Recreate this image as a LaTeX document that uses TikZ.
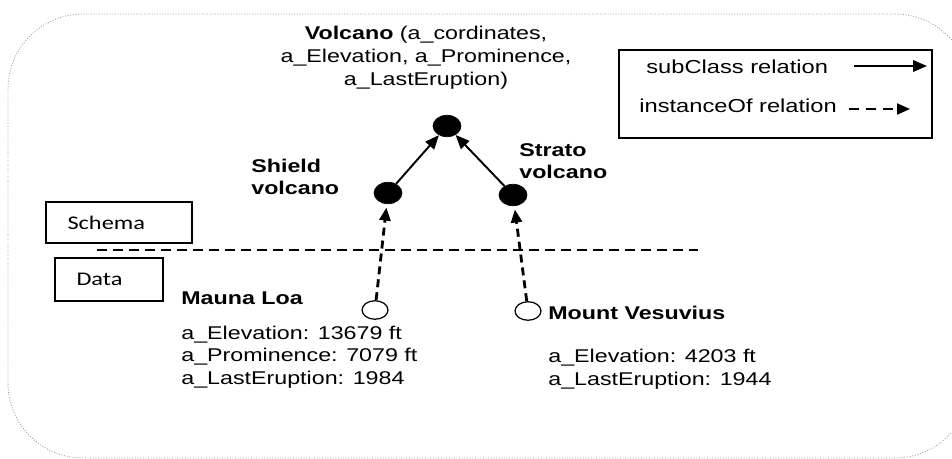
\documentclass[tikz,border=0pt]{standalone}
\usepackage{fontspec}
\setmainfont{Liberation Sans}[FakeStretch=1.26]
\newfontfamily\boxfont{Carlito}[FakeStretch=1.26]
\usepackage{tikz}
\usetikzlibrary{positioning,arrows.meta,shapes.geometric}
\tikzset{
  relarrow/.style={-{Triangle[length=0.28cm, width=0.23cm]}, line width=1.1pt},
  instarrow/.style={-{Triangle[length=0.26cm, width=0.22cm]}, line width=1.6pt, dash pattern=on 0.16cm off 0.1cm},
  classnode/.style={draw, ellipse, fill=black, minimum width=0.56cm, minimum height=0.43cm, inner sep=0pt},
  instnode/.style={draw, ellipse, fill=white, line width=0.7pt, minimum width=0.52cm, minimum height=0.37cm, inner sep=0pt},
  tagbox/.style={draw, line width=0.7pt, font=\boxfont\fontsize{11}{13}\selectfont, align=left, inner xsep=0.43cm, inner ysep=0pt},
  attrtext/.style={align=left, anchor=west, inner sep=0pt, font=\fontsize{10.5}{12.8}\selectfont},
  headtext/.style={align=left, anchor=west, inner sep=0pt, font=\bfseries\fontsize{10.5}{12.8}\selectfont},
  legendbox/.style={draw, line width=0.7pt},
  frame/.style={densely dotted, gray!80, line width=0.5pt, rounded corners=1.5cm}
}

\begin{document}
\begin{tikzpicture}[x=0.02cm, y=-0.02cm]
  \useasboundingbox (0,0) rectangle (952,459);
  % outer frame
  \begin{scope}
    \clip (0,0) rectangle (952,459);
    \draw[frame] (8,14) rectangle (970,458);
  \end{scope}

  % legend
  \node[legendbox, minimum width=6.26cm, minimum height=1.76cm] (legend) at (775.5,94) {};
  \node[attrtext, font=\fontsize{10.7}{13}\selectfont] (subtxt) at (646,67) {subClass relation};
  \node[attrtext, font=\fontsize{10.7}{13}\selectfont] (insttxt) at (639,106) {instanceOf relation};
  \coordinate (subA) at (854,66);
  \coordinate (subB) at (927,66);
  \coordinate (instA) at (849,109);
  \coordinate (instB) at (910,109);
  \draw[relarrow] (subA) -- (subB);
  \draw[instarrow, line width=1.2pt, dash pattern=on 0.2cm off 0.14cm] (instA) -- (instB);

  % schema part
  \node[classnode] (volcano) at (447,126) {};
  \node[classnode] (shield) at (388,193) {};
  \node[classnode] (strato) at (513,195) {};
  \node[align=center, inner sep=0pt, font=\fontsize{10.5}{13}\selectfont] (volctxt) at (426,58)
    {\textbf{Volcano} (a\_cordinates,\\a\_Elevation, a\_Prominence,\\a\_LastEruption)};
  \node[headtext] (shieldtxt) at (251,177) {Shield\\volcano};
  \node[headtext] (stratotxt) at (519,161) {Strato\\volcano};
  \draw[relarrow] (shield) -- (volcano);
  \draw[relarrow] (strato) -- (volcano);

  % schema / data split
  \node[tagbox, text width=2.06cm, minimum height=0.82cm] (schema) at (119,222.5) {Schema};
  \node[tagbox, text width=1.30cm, minimum height=0.86cm] (data) at (109,279.5) {Data};
  \coordinate (splitA) at (97,250);
  \coordinate (splitB) at (698,250);
  \draw[dash pattern=on 0.2cm off 0.12cm, line width=0.7pt] (splitA) -- (splitB);

  % data part
  \node[instnode] (mauna) at (375,310) {};
  \node[instnode] (vesuv) at (528,311) {};
  \node[headtext] (maunatxt) at (181,298) {Mauna Loa};
  \node[attrtext] (maunaattr) at (181,357)
    {a\_Elevation: 13679 ft\\a\_Prominence: 7079 ft\\a\_LastEruption: 1984};
  \node[headtext] (vesuvtxt) at (548,313) {Mount Vesuvius};
  \node[attrtext] (vesuvattr) at (548,369)
    {a\_Elevation: 4203 ft\\a\_LastEruption: 1944};
  \draw[instarrow, shorten >=2pt] (mauna) -- (shield);
  \draw[instarrow, shorten >=2pt] (vesuv) -- (strato);
\end{tikzpicture}
\end{document}
